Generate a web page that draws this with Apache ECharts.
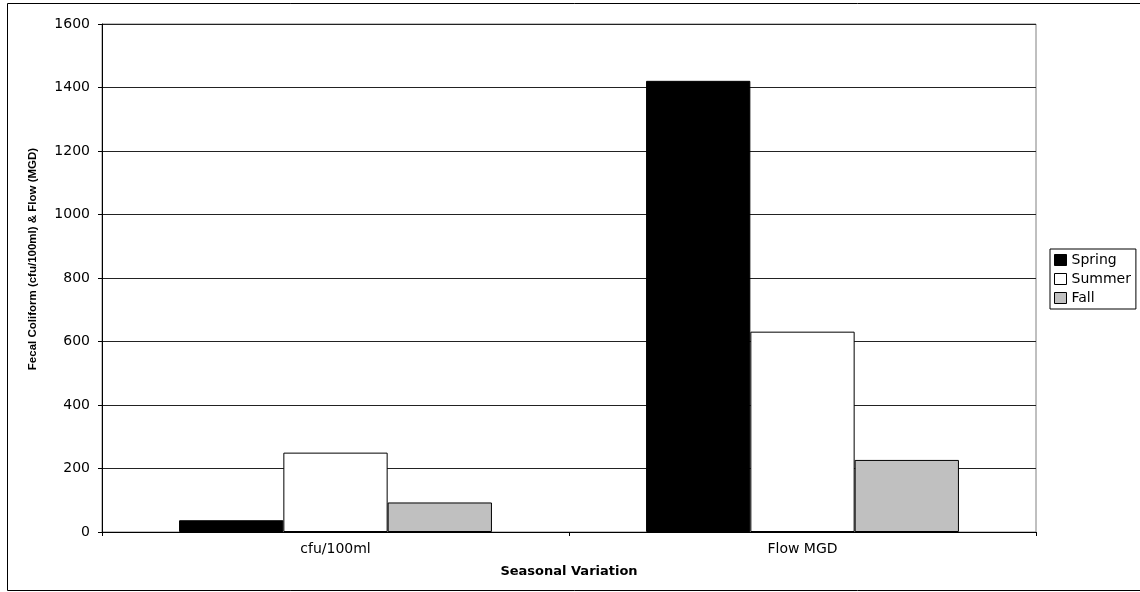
<!DOCTYPE html>
<html>
<head>
<meta charset="utf-8">
<script src="https://cdn.jsdelivr.net/npm/echarts@6/dist/echarts.min.js"></script>
<style>
html,body{margin:0;padding:0;background:#fff;}
#chart{width:1140px;height:592px;}
</style>
</head>
<body>
<div id="chart"></div>
<script>
const categories = ['cfu/100ml', 'Flow MGD'];
const seriesNames = ['Spring', 'Summer', 'Fall'];
const springValues = [37, 1421];
const summerValues = [250, 631];
const fallValues = [93, 227];
const yTicks = { min: 0, max: 1600, interval: 200 };
const yTitle = 'Fecal Coliform (cfu/100ml) & Flow (MGD)';
const xTitle = 'Seasonal Variation';

const colors = ['#000000', '#ffffff', '#c0c0c0'];
const values = [springValues, summerValues, fallValues];

const chart = echarts.init(document.getElementById('chart'), null, {renderer: 'canvas'});
const font = 'DejaVu Sans';
chart.setOption({
  animation: false,
  backgroundColor: '#ffffff',
  grid: {
    left: 102, top: 24, right: 104, bottom: 60,
    show: true, borderColor: '#808080', borderWidth: 1, backgroundColor: 'transparent'
  },
  legend: {
    orient: 'vertical',
    left: 1050, top: 249,
    padding: [4, 5, 4, 4],
    itemGap: 5,
    itemWidth: 12, itemHeight: 11, itemTextGap: 3,
    borderColor: '#000', borderWidth: 1, backgroundColor: '#fff',
    textStyle: { fontFamily: font, fontSize: 14, color: '#000', lineHeight: 14 },
    data: seriesNames.map((n, i) => ({
      name: n, icon: 'rect',
      itemStyle: { color: colors[i], borderColor: '#000', borderWidth: 1 }
    }))
  },
  xAxis: {
    type: 'category',
    data: categories,
    axisLine: { lineStyle: { color: '#000', width: 1 } },
    axisTick: { show: true, length: 4, lineStyle: { color: '#000' } },
    axisLabel: { fontFamily: font, fontSize: 14, color: '#000', margin: 10 },
    splitLine: { show: false }
  },
  yAxis: {
    type: 'value',
    min: yTicks.min, max: yTicks.max, interval: yTicks.interval,
    axisLine: { show: true, lineStyle: { color: '#000', width: 1 } },
    axisTick: { show: true, length: 4, lineStyle: { color: '#000' } },
    axisLabel: { fontFamily: font, fontSize: 14, color: '#000', margin: 12,
      formatter: v => String(v) },
    splitLine: { show: true, lineStyle: { color: '#222', width: 1 } }
  },
  series: seriesNames.map((n, i) => ({
    name: n,
    type: 'bar',
    data: values[i],
    barGap: '0%',
    barCategoryGap: '33%',
    itemStyle: { color: colors[i], borderColor: '#000', borderWidth: 1 }
  })),
  graphic: [
    {
      type: 'rect', silent: true, z: -10,
      shape: { x: 7.5, y: 3.5, width: 1140, height: 587 },
      style: { fill: 'none', stroke: '#000', lineWidth: 1 }
    },
    {
      type: 'text', x: 33, y: 259, rotation: Math.PI / 2,
      style: {
        text: yTitle, fontFamily: 'Liberation Sans', fontWeight: 'bold', fontSize: 11.5,
        fill: '#000', align: 'center', verticalAlign: 'middle'
      }
    },
    {
      type: 'text', x: 569, y: 572,
      style: {
        text: xTitle, fontFamily: font, fontWeight: 'bold', fontSize: 13,
        fill: '#000', align: 'center', verticalAlign: 'middle'
      }
    }
  ]
});
</script>
</body>
</html>
